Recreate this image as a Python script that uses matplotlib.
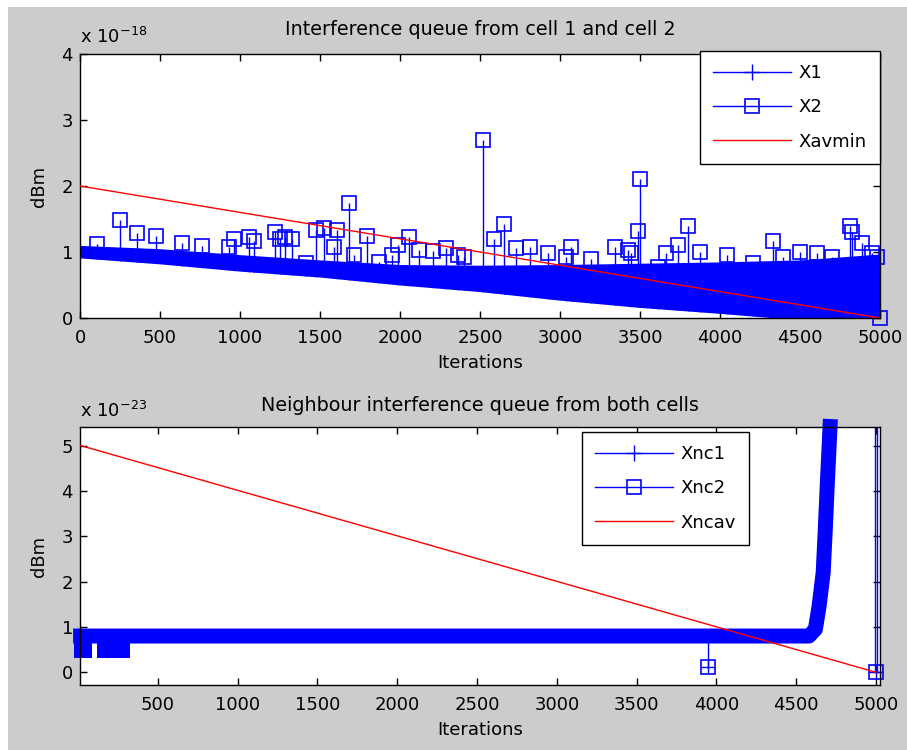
import matplotlib
matplotlib.use("Agg")
import matplotlib.pyplot as plt
from matplotlib.lines import Line2D
from matplotlib.patches import Rectangle

BLUE = "#0000ff"
RED = "#ff0000"
GRAY = "#cccccc"

# x axis ticks (iterations)
top_xticks = [0, 500, 1000, 1500, 2000, 2500, 3000, 3500, 4000, 4500, 5000]
bottom_xticks = [500, 1000, 1500, 2000, 2500, 3000, 3500, 4000, 4500, 5000]

# --- top panel, values in units of 1e-18 ---
# dense X1/X2 band: lower and upper edge read every 500 iterations
band_x = [0, 500, 1000, 1500, 2000, 2500, 3000, 3500, 4000, 4500, 5000]
band_low = [0.91, 0.82, 0.71, 0.62, 0.50, 0.40, 0.27, 0.16, 0.07, -0.03, -0.08]
band_high = [1.10, 1.05, 0.96, 0.88, 0.81, 0.80, 0.81, 0.83, 0.85, 0.88, 0.97]

# X2 samples that stick out above the band
x2_peak_x = [108, 251, 355, 474, 637, 762, 930, 961, 1055, 1086, 1217, 1249,
             1284, 1322, 1410, 1472, 1525, 1587, 1608, 1681, 1713, 1792, 1869,
             1953, 1990, 2057, 2120, 2208, 2287, 2362, 2402, 2521, 2590, 2652,
             2726, 2813, 2924, 3039, 3070, 3195, 3341, 3425, 3446, 3488, 3498,
             3613, 3665, 3738, 3801, 3874, 4041, 4208, 4333, 4396, 4500, 4605,
             4699, 4814, 4825, 4887, 4950, 4981, 5000]
x2_peak_y = [1.12, 1.48, 1.29, 1.24, 1.14, 1.09, 1.08, 1.19, 1.22, 1.17, 1.31,
             1.19, 1.23, 1.19, 0.83, 1.33, 1.36, 1.08, 1.33, 1.74, 0.95, 1.24,
             0.85, 0.95, 1.11, 1.22, 1.03, 1.02, 1.06, 0.95, 0.93, 2.70, 1.19,
             1.42, 1.06, 1.08, 0.98, 0.93, 1.08, 0.89, 1.08, 1.03, 0.98, 1.32,
             2.10, 0.78, 0.98, 1.11, 1.39, 1.00, 0.95, 0.83, 1.16, 0.93, 1.00,
             0.98, 0.93, 1.39, 1.31, 1.13, 0.98, 0.93, 0.00]

xavmin_x = [0, 5000]
xavmin_y = [2.0, 0.0]

# --- bottom panel, values in units of 1e-23 ---
xnc2_x = [16, 4580, 4620, 4643, 4669, 4681, 4697, 4712]
xnc2_y = [0.80, 0.80, 0.95, 1.45, 2.20, 3.07, 4.32, 5.42]
xnc2_start_x = [18, 34]
xnc2_start2_x = [164, 274]
xnc2_start_y = [0.49, 0.49]
xnc2_dip_x = [3945, 3945]
xnc2_dip_y = [0.80, 0.12]
xnc_end_x = [4995, 5008]
xnc_end_top = [60, 60]
xnc_end_pt_x = 5000
xnc_end_pt_y = 0.0

xncav_x = [16, 5000]
xncav_y = [5.0, 0.0]

plt.rcParams["font.family"] = "DejaVu Sans"
plt.rcParams["font.size"] = 13

fig = plt.figure(figsize=(9.07, 7.5), dpi=100, facecolor="white")
fig.patches.append(Rectangle((8 / 907, 0), 1, 1 - 7 / 750,
                             transform=fig.transFigure, facecolor=GRAY,
                             edgecolor="none", zorder=-10))

ax1 = fig.add_axes([80 / 907, 1 - 318 / 750, 800 / 907, 264 / 750])
ax2 = fig.add_axes([80 / 907, 1 - 685 / 750, 800 / 907, 258 / 750])


def style_axes(ax):
    ax.set_facecolor("white")
    for spine in ax.spines.values():
        spine.set_linewidth(1.0)
        spine.set_color("black")
    ax.tick_params(direction="in", length=5, width=1.0, top=True, right=True,
                   labelsize=13, colors="black")
    ax.tick_params(axis="x", pad=8)
    ax.tick_params(axis="y", pad=5)


# top panel
style_axes(ax1)
ax1.vlines(x2_peak_x, 0, x2_peak_y, color=BLUE, lw=1.0, zorder=1.2)
ax1.fill_between(band_x, -1, band_low, color="white", lw=0, zorder=1.5)
ax1.fill_between(band_x, band_low, band_high, color=BLUE, lw=0, zorder=1.6)
ax1.plot(x2_peak_x, x2_peak_y, ls="none", marker="s", ms=10, mfc="none",
         mec=BLUE, mew=1.2, zorder=1.7, clip_on=False)
ax1.plot(xavmin_x, xavmin_y, color=RED, lw=1.0, zorder=3)
ax1.set_xlim(0, 5000)
ax1.set_ylim(0, 4)
ax1.set_xticks(top_xticks)
ax1.set_yticks([0, 1, 2, 3, 4])
ax1.set_title("Interference queue from cell 1 and cell 2", pad=13.5,
              fontsize=13.8)
ax1.set_xlabel("Iterations", labelpad=5)
ax1.set_ylabel("dBm", labelpad=10)
ax1.text(0, 1 + 11 / 264, r"x 10$^{-18}$", transform=ax1.transAxes,
         ha="left", va="baseline")

handles1 = [
    Line2D([], [], color=BLUE, lw=1.0, marker="+", ms=11.5, mew=1.0, label="X1"),
    Line2D([], [], color=BLUE, lw=1.0, marker="s", ms=10, mfc="none",
           mew=1.2, label="X2"),
    Line2D([], [], color=RED, lw=1.0, label="Xavmin"),
]
leg1 = ax1.legend(handles=handles1, loc="upper right",
                  bbox_to_anchor=(880 / 907, 1 - 50.7 / 750),
                  bbox_transform=fig.transFigure, borderaxespad=0,
                  fancybox=False, framealpha=1, edgecolor="black",
                  handlelength=4.3, handletextpad=0.4, labelspacing=0.9,
                  borderpad=0.75)
leg1.get_frame().set_linewidth(1.0)
leg1.set_zorder(5)

# bottom panel
style_axes(ax2)
ax2.plot(xnc2_x, xnc2_y, color=BLUE, lw=10.8, solid_capstyle="projecting",
         solid_joinstyle="round", clip_on=False, zorder=2)
ax2.plot(xnc2_start_x, xnc2_start_y, color=BLUE, lw=10.8,
         solid_capstyle="projecting", clip_on=False, zorder=2)
ax2.plot(xnc2_start2_x, xnc2_start_y, color=BLUE, lw=10.8,
         solid_capstyle="projecting", clip_on=False, zorder=2)
ax2.plot(xnc2_dip_x, xnc2_dip_y, color=BLUE, lw=1.0, zorder=2)
ax2.plot(xnc2_dip_x[-1], xnc2_dip_y[-1], ls="none", marker="s", ms=10,
         mfc="none", mec=BLUE, mew=1.2, zorder=2.1)
ax2.plot(xnc2_dip_x[-1], xnc2_dip_y[-1], ls="none", marker="+", ms=10,
         mec=BLUE, mew=1.0, zorder=2.1)
ax2.vlines(xnc_end_x, xnc_end_pt_y, xnc_end_top, color=BLUE, lw=1.0, zorder=2)
ax2.plot(xnc_end_pt_x, xnc_end_pt_y, ls="none", marker="s", ms=10,
         mfc="none", mec=BLUE, mew=1.2, zorder=2.1, clip_on=False)
ax2.plot(xnc_end_pt_x, xnc_end_pt_y, ls="none", marker="+", ms=10,
         mec=BLUE, mew=1.0, zorder=2.1, clip_on=False)
ax2.plot(xncav_x, xncav_y, color=RED, lw=1.0, zorder=3)
ax2.set_xlim(12, 5025)
ax2.set_ylim(-0.28, 5.41)
ax2.set_xticks(bottom_xticks)
ax2.set_yticks([0, 1, 2, 3, 4, 5])
ax2.set_title("Neighbour interference queue from both cells", pad=11.5,
              fontsize=13.8)
ax2.set_xlabel("Iterations", labelpad=5)
ax2.set_ylabel("dBm", labelpad=10)
ax2.text(0, 1 + 10 / 258, r"x 10$^{-23}$", transform=ax2.transAxes,
         ha="left", va="baseline")

handles2 = [
    Line2D([], [], color=BLUE, lw=1.0, marker="+", ms=11.5, mew=1.0, label="Xnc1"),
    Line2D([], [], color=BLUE, lw=1.0, marker="s", ms=10, mfc="none",
           mew=1.2, label="Xnc2"),
    Line2D([], [], color=RED, lw=1.0, label="Xncav"),
]
leg2 = ax2.legend(handles=handles2, loc="upper left",
                  bbox_to_anchor=(581.7 / 907, 1 - 431.7 / 750),
                  bbox_transform=fig.transFigure, borderaxespad=0,
                  fancybox=False, framealpha=1, edgecolor="black",
                  handlelength=4.3, handletextpad=0.4, labelspacing=0.9,
                  borderpad=0.75)
leg2.get_frame().set_linewidth(1.0)
leg2.set_zorder(5)

fig.savefig("out.png", dpi=100, facecolor=fig.get_facecolor())
